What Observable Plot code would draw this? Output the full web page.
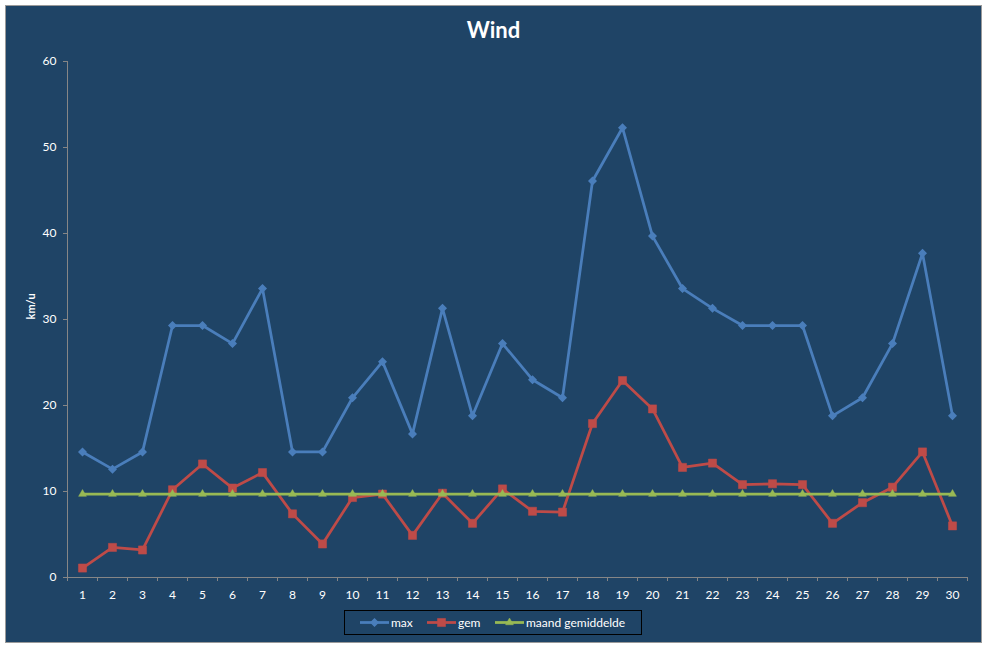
<!DOCTYPE html>
<html>
<head>
<meta charset="utf-8">
<script src="https://cdn.jsdelivr.net/npm/d3@7"></script>
<script src="https://cdn.jsdelivr.net/npm/@observablehq/plot@0.6"></script>
<style>
  html, body { margin: 0; padding: 0; background: #ffffff; }
  #wrap { position: relative; width: 987px; height: 648px; overflow: hidden; font-family: Lato, "Open Sans", sans-serif; }
  #frame { position: absolute; left: 5px; top: 5px; width: 977px; height: 638px; box-sizing: border-box;
           background: #1f4466; border: 1px solid #9a9a9a; }
  #title { position: absolute; left: 0; top: 17px; width: 987px; text-align: center; color: #ffffff;
           font: bold 22px Lato, sans-serif; line-height: 1.2; }
  #chart { position: absolute; left: 0; top: 0; }
  #legend { position: absolute; left: 344px; top: 610px; width: 298px; height: 25px; box-sizing: border-box;
            border: 1px solid #000000; }
</style>
</head>
<body>
<div id="wrap">
  <div id="frame"></div>
  <div id="chart"></div>
  <div id="title">Wind</div>
  <div id="legend"></div>
</div>
<script>
// ---- data ----
const days = [1,2,3,4,5,6,7,8,9,10,11,12,13,14,15,16,17,18,19,20,21,22,23,24,25,26,27,28,29,30];
const maxValues = [14.6,12.6,14.6,29.3,29.3,27.2,33.6,14.6,14.6,20.9,25.1,16.7,31.3,18.8,27.2,23.0,20.9,46.1,52.3,39.7,33.6,31.3,29.3,29.3,29.3,18.8,20.9,27.2,37.7,18.8];
const gemValues = [1.1,3.5,3.2,10.2,13.2,10.4,12.2,7.4,3.9,9.3,9.7,4.9,9.8,6.3,10.3,7.7,7.6,17.9,22.9,19.6,12.8,13.3,10.8,10.9,10.8,6.3,8.7,10.5,14.6,6.0];
const maandGemiddelde = [9.7,9.7,9.7,9.7,9.7,9.7,9.7,9.7,9.7,9.7,9.7,9.7,9.7,9.7,9.7,9.7,9.7,9.7,9.7,9.7,9.7,9.7,9.7,9.7,9.7,9.7,9.7,9.7,9.7,9.7];
const yTicks = [0,10,20,30,40,50,60];
const seriesNames = ["max", "gem", "maand gemiddelde"];
const titleText = "Wind";
const yLabel = "km/u";

// ---- styles ----
const colors = { "max": "#4a7ebb", "gem": "#be4b48", "maand gemiddelde": "#98b954" };
const symbols = { "max": "diamond2", "gem": "square", "maand gemiddelde": "triangle" };
const radii = { "max": 3.1, "gem": 4.6, "maand gemiddelde": 2.9 };
const axisGray = "#868686";
const xDomain = [0.5, 30.5];

const rows = (vals, name) => days.map((d, i) => ({ day: d, value: vals[i], series: name }));
const maxRows = rows(maxValues, "max");
const gemRows = rows(gemValues, "gem");
const avgRows = rows(maandGemiddelde, "maand gemiddelde");
const bounds = days.map(d => d - 0.5).concat([days[days.length - 1] + 0.5]);

const seriesMarks = (data, name) => [
  Plot.line(data, { x: "day", y: "value", stroke: colors[name], strokeWidth: 2.75, strokeLinejoin: "round" }),
  Plot.dot(data, { x: "day", y: "value", symbol: () => symbols[name], r: radii[name],
                   fill: colors[name], stroke: colors[name], strokeWidth: name === "max" ? 1.5 : 0.5 })
];

const chart = Plot.plot({
  width: 987,
  height: 648,
  marginLeft: 67,
  marginRight: 20,
  marginTop: 61,
  marginBottom: 71,
  style: { background: "transparent", color: "#ffffff", fontFamily: "Lato, sans-serif", fontSize: "12px", overflow: "visible" },
  x: { type: "linear", domain: xDomain, axis: null },
  y: { domain: [0, 60], axis: null },
  symbol: { type: "identity" },
  marks: [
    Plot.ruleY([0], { stroke: axisGray, strokeWidth: 1 }),
    Plot.ruleX([xDomain[0]], { stroke: axisGray, strokeWidth: 1 }),
    Plot.axisY(yTicks, { tickSize: 4, tickPadding: 7, stroke: axisGray, fill: "#ffffff", label: null, fontSize: 12 }),
    Plot.axisX(bounds, { tickSize: 4, tickFormat: () => "", stroke: axisGray, label: null }),
    Plot.axisX(days, { tickSize: 0, tickPadding: 13, fill: "#ffffff", label: null, fontSize: 12, tickFormat: d => String(d) }),
    Plot.text([yLabel], { frameAnchor: "left", dx: -36, rotate: -90, fontWeight: "bold", fontSize: 11, fill: "#ffffff" }),
    ...seriesMarks(maxRows, "max"),
    ...seriesMarks(gemRows, "gem"),
    ...seriesMarks(avgRows, "maand gemiddelde")
  ]
});
document.getElementById("chart").appendChild(chart);
document.getElementById("title").textContent = titleText;

// ---- legend ----
const legendItems = [
  { name: seriesNames[0], x0: 15, text: "max" },
  { name: seriesNames[1], x0: 82, text: "gem" },
  { name: seriesNames[2], x0: 150, text: "maand gemiddelde" }
];
const symbolMap = { "diamond2": d3.symbolDiamond2, "square": d3.symbolSquare, "triangle": d3.symbolTriangle };
const lsvg = d3.select("#legend").append("svg").attr("width", 296).attr("height", 23)
  .style("position", "absolute").style("left", "0px").style("top", "0px");
legendItems.forEach(it => {
  const g = lsvg.append("g");
  const c = colors[it.name];
  g.append("line").attr("x1", it.x0).attr("x2", it.x0 + 29).attr("y1", 11.5).attr("y2", 11.5)
    .attr("stroke", c).attr("stroke-width", 2.75);
  const r = radii[it.name];
  g.append("path").attr("d", d3.symbol(symbolMap[symbols[it.name]], r * r * Math.PI)())
    .attr("transform", `translate(${it.x0 + 14.5},11.5)`)
    .attr("fill", c).attr("stroke", c).attr("stroke-width", it.name === "max" ? 1.5 : 0.5);
  g.append("text").attr("x", it.x0 + 31).attr("y", 16).attr("fill", "#ffffff")
    .attr("font-family", "Lato, sans-serif").attr("font-size", 12).text(it.text);
});
</script>
</body>
</html>
